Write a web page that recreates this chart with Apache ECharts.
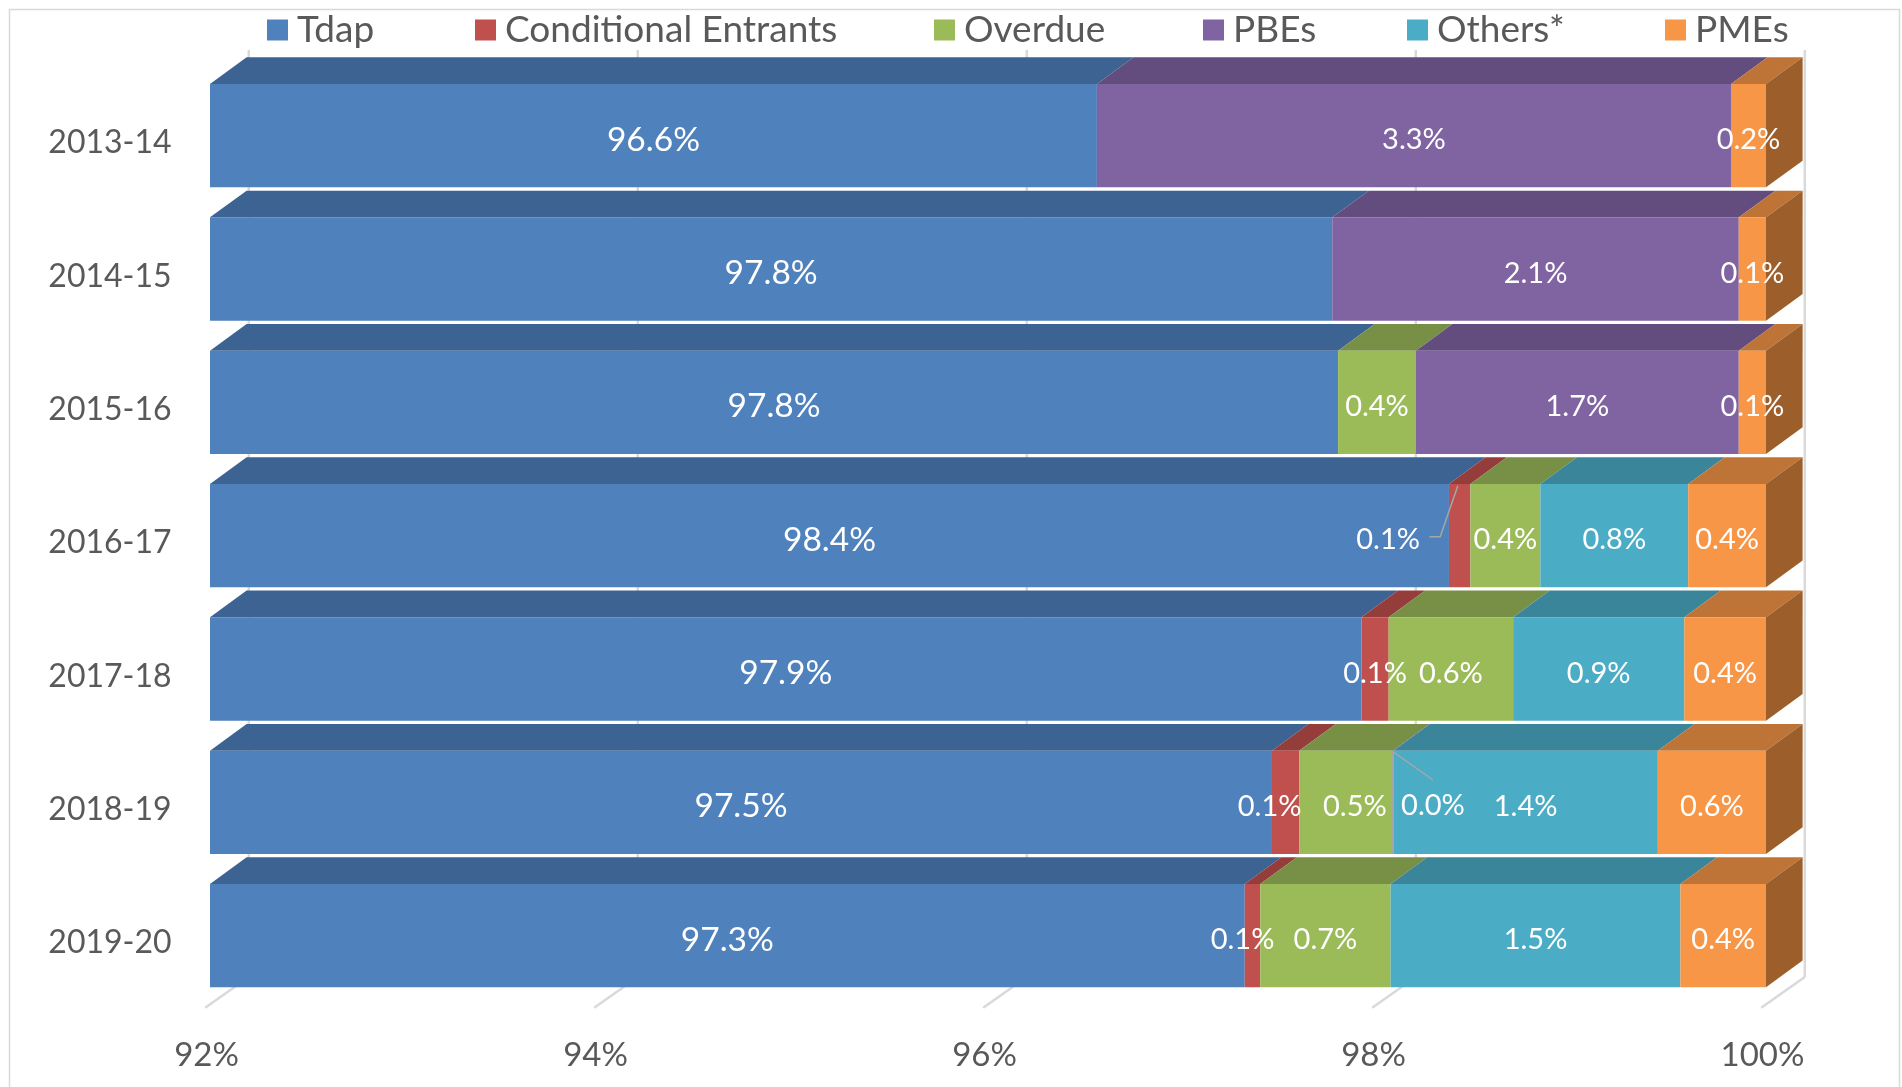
<!DOCTYPE html>
<html>
<head>
<meta charset="utf-8">
<script src="https://cdn.jsdelivr.net/npm/echarts@6/dist/echarts.min.js"></script>
<style>
html,body{margin:0;padding:0;background:#fff;}
#chart{width:1902px;height:1087px;}
</style>
</head>
<body>
<div id="chart"></div>
<script>
// ---------------- data ----------------
const categories  = ['2013-14','2014-15','2015-16','2016-17','2017-18','2018-19','2019-20'];
const seriesNames = ['Tdap','Conditional Entrants','Overdue','PBEs','Others*','PMEs'];
const tdap        = [96.56, 97.77, 97.80, 98.37, 97.92, 97.46, 97.32];
const conditional = [null,  null,  null,  0.11,  0.14,  0.14,  0.08];
const overdue     = [null,  null,  0.40,  0.36,  0.64,  0.48,  0.67];
const pbes        = [3.26,  2.09,  1.66,  null,  null,  0.004, null];
const others      = [null,  null,  null,  0.76,  0.88,  1.36,  1.49];
const pmes        = [0.18,  0.14,  0.14,  0.40,  0.42,  0.556, 0.44];
const xTicks      = [92, 94, 96, 98, 100];

const seriesValues = [tdap, conditional, overdue, pbes, others, pmes];

// ---------------- styles ----------------
const FRONT = ['#4F81BD','#C0504D','#9BBB59','#8064A2','#4BACC6','#F79646'];
const TOP   = ['#3D6392','#943D3B','#789045','#634D7E','#3A8599','#BE7436'];
const SIDE  = ['#32517A','#7A3230','#627638','#513F68','#306D7E','#9C5F2C'];
const FONT = 'Lato';
const TXT = '#595959';
const GRIDC = '#D9D9D9';
const DX = 36.6, DY = -26.7;          // bar depth
const FACE_RATIO = 0.775;             // front face height / band
const WALL_DX = 38.8;                 // back wall offset from front face

const nudges = {'Conditional Entrants|5': -16, 'Conditional Entrants|6': -10, 'Overdue|5': 9};
const callouts = {
  'Conditional Entrants|3': {label: [-71.5, 4], line: [[-30.2, 1], [-19.5, 1], [-1.8, -50]]},
  'PBEs|5': {label: [40, 3], line: [[0, -50.6], [40, -22.3]]}
};

const xMin = xTicks[0], xMax = xTicks[xTicks.length - 1];

function lastSeriesOf(row) {
  let last = -1;
  seriesValues.forEach((arr, s) => { if (arr[row] != null && arr[row] > 0) last = s; });
  return last;
}

function makeBarSeries(s) {
  const data = categories.map((c, i) => {
    let start = 0;
    for (let k = 0; k < s; k++) start += seriesValues[k][i] || 0;
    const v = seriesValues[s][i] || 0;
    return [i, start, start + v];
  });
  return {
    type: 'custom',
    name: seriesNames[s],
    coordinateSystem: 'cartesian2d',
    itemStyle: {color: FRONT[s]},
    encode: {y: 0, x: [1, 2]},
    data: data,
    renderItem: function (params, api) {
      const i = params.dataIndex;
      const v = seriesValues[s][i];
      if (v == null) return null;
      const start = Math.max(api.value(1), xMin);
      const end = api.value(2);
      const p0 = api.coord([start, i]);
      const p1 = api.coord([end, i]);
      const band = api.size([0, 1])[1];
      const h = band * FACE_RATIO;
      const cy = p0[1];
      const top = cy - h / 2, bottom = cy + h / 2;
      const x0 = p0[0], x1 = p1[0];
      const children = [];
      children.push({type: 'polygon', shape: {points: [[x0, top], [x1, top], [x1 + DX, top + DY], [x0 + DX, top + DY]]},
        style: {fill: TOP[s]}});
      children.push({type: 'rect', shape: {x: x0, y: top, width: Math.max(x1 - x0, 0), height: h},
        style: {fill: FRONT[s]}});
      if (lastSeriesOf(i) === s) {
        children.push({type: 'polygon', shape: {points: [[x1, top], [x1 + DX, top + DY], [x1 + DX, bottom + DY], [x1, bottom]]},
          style: {fill: SIDE[s]}});
      }
      const key = seriesNames[s] + '|' + i;
      const cx = (x0 + x1) / 2;
      const text = v.toFixed(1) + '%';
      const fs = s === 0 ? 33.5 : 29;
      let lx = cx + (nudges[key] || 0), ly = cy + 4.2;
      if (callouts[key]) {
        const c = callouts[key];
        lx = cx + c.label[0]; ly = cy + c.label[1];
        children.push({type: 'polyline', z2: 90,
          shape: {points: c.line.map(p => [cx + p[0], cy + p[1]])},
          style: {stroke: '#A6A6A6', lineWidth: 1.5, fill: null}});
      }
      children.push({type: 'text', z2: 100,
        style: {text: text, x: lx, y: ly, fill: '#FFFFFF', fontSize: fs, fontFamily: FONT,
          align: 'center', verticalAlign: 'middle'}});
      return {type: 'group', children: children};
    }
  };
}

const wallSeries = {
  type: 'custom',
  name: 'walls',
  silent: true,
  z: 1,
  coordinateSystem: 'cartesian2d',
  encode: {x: 0},
  data: xTicks.map(t => [t]),
  renderItem: function (params, api) {
    const t = api.value(0);
    const pTop = api.coord([t, 0]);
    const pBot = api.coord([t, categories.length - 1]);
    const band = api.size([0, 1])[1];
    const gridTop = pTop[1] - band / 2;
    const gridBottom = pBot[1] + band / 2;
    const bx = pTop[0] + WALL_DX;
    const wallTop = gridTop - 19;
    const floorBack = gridBottom - 25.3;
    const floorFront = gridBottom + 5.4;
    return {type: 'group', children: [
      {type: 'line', shape: {x1: bx, y1: wallTop, x2: bx, y2: floorBack}, style: {stroke: GRIDC, lineWidth: 2.5}},
      {type: 'line', shape: {x1: bx, y1: floorBack, x2: bx - 43.6, y2: floorFront}, style: {stroke: GRIDC, lineWidth: 2.5}}
    ]};
  }
};

// category labels placed through the category scale
const catLabelSeries = {
  type: 'custom',
  name: 'catLabels',
  silent: true,
  coordinateSystem: 'cartesian2d',
  encode: {y: 0},
  data: categories.map((c, i) => [i]),
  renderItem: function (params, api) {
    const i = params.dataIndex;
    const p = api.coord([xMin, i]);
    return {type: 'text', style: {text: categories[i], x: p[0] - 38.4, y: p[1] + 7.5,
      fill: TXT, fontSize: 32, fontFamily: FONT, align: 'right', verticalAlign: 'middle'}};
  }
};

const legendLeft = [267, 475, 934, 1203, 1407, 1665];

const option = {
  animation: false,
  backgroundColor: '#FFFFFF',
  graphic: [{type: 'rect', left: 7, top: 7, shape: {width: 1890, height: 1100},
    style: {fill: 'none', stroke: GRIDC, lineWidth: 1.5}, silent: true}],
  legend: seriesNames.map((n, k) => ({
    data: [n], left: legendLeft[k], top: 11.5, padding: 0,
    itemWidth: 21, itemHeight: 21, icon: 'rect', selectedMode: false,
    textStyle: {fontFamily: FONT, fontSize: 37, color: TXT, lineHeight: 37, padding: [0, 0, 0, 4]}
  })),
  grid: {left: 210, right: 136, top: 69, bottom: 84.7, containLabel: false},
  xAxis: {
    type: 'value', min: xMin, max: xMax, interval: xTicks[1] - xTicks[0],
    axisLine: {show: false}, axisTick: {show: false}, splitLine: {show: false},
    axisLabel: {formatter: v => v + '%', fontFamily: FONT, fontSize: 33, color: TXT,
      margin: 36.6, lineHeight: 33, padding: [0, 7, 0, 0], showMinLabel: true, showMaxLabel: true}
  },
  yAxis: {
    type: 'category', data: categories, inverse: true,
    axisLine: {show: false}, axisTick: {show: false}, splitLine: {show: false},
    axisLabel: {show: false}
  },
  series: [wallSeries, catLabelSeries].concat(seriesNames.map((n, s) => makeBarSeries(s)))
};

const chart = echarts.init(document.getElementById('chart'), null, {renderer: 'canvas'});
chart.setOption(option);
</script>
</body>
</html>
